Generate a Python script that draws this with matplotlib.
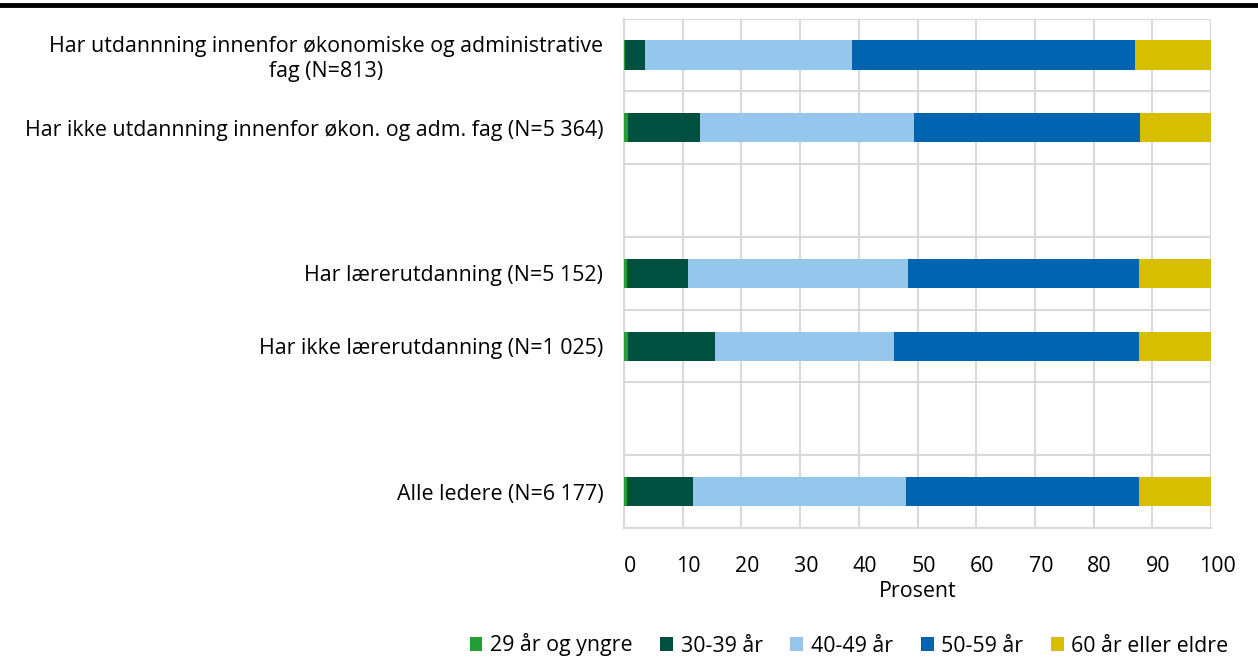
import matplotlib
matplotlib.use("Agg")
import matplotlib.pyplot as plt
import matplotlib.transforms as mtransforms
from matplotlib.patches import Patch
import numpy as np

plt.rcParams['font.family'] = ['Open Sans', 'DejaVu Sans']

categories = [
    "Har utdannning innenfor økonomiske og administrative\nfag (N=813)",
    "Har ikke utdannning innenfor økon. og adm. fag (N=5 364)",
    "",
    "Har lærerutdanning (N=5 152)",
    "Har ikke lærerutdanning (N=1 025)",
    "",
    "Alle ledere (N=6 177)",
]
series_names = ["29 år og yngre", "30-39 år", "40-49 år", "50-59 år", "60 år eller eldre"]
s29 = [0.1, 0.6, 0, 0.45, 0.6, 0, 0.5]
s30 = [3.5, 12.3, 0, 10.5, 14.9, 0, 11.3]
s40 = [35.2, 36.5, 0, 37.4, 30.5, 0, 36.2]
s50 = [48.3, 38.5, 0, 39.3, 41.8, 0, 39.7]
s60 = [12.9, 12.1, 0, 12.3, 12.2, 0, 12.3]
colors = ["#22a038", "#00503f", "#95c6eb", "#0064b0", "#d7bf00"]
xticks = [0, 10, 20, 30, 40, 50, 60, 70, 80, 90, 100]

FS = 15.4

fig = plt.figure(figsize=(12.58, 6.70), dpi=100)
ax = fig.add_axes([624/1258, 1-528/670, (1211-624)/1258, (528-18.6)/670])

y = np.arange(len(categories))
left = np.zeros(len(categories))
for vals, c, name in zip([s29, s30, s40, s50, s60], colors, series_names):
    v = np.array(vals)
    ax.barh(y, v, left=left, height=0.4, color=c, label=name, zorder=3)
    left += v

ax.set_xlim(0, 100)
ax.set_ylim(len(categories)-0.5, -0.5)
ax.set_xticks(xticks)
ax.set_xticklabels([str(t) for t in xticks], fontsize=FS)
ax.set_yticks(y)
ax.set_yticklabels(categories, fontsize=FS, multialignment='center')
ax.set_yticks(np.arange(-0.5, len(categories), 1), minor=True)
ax.tick_params(axis='y', which='both', length=0, pad=15)
ax.tick_params(axis='x', length=0, pad=20)
ax.grid(axis='x', which='major', color='#d9d9d9', linewidth=1.5, zorder=0)
ax.grid(axis='y', which='minor', color='#d9d9d9', linewidth=1.5, zorder=0)
for s in ax.spines.values():
    s.set_color('#d9d9d9')
    s.set_linewidth(1.5)
ax.spines['top'].set_visible(False)
ax.spines['right'].set_visible(False)
ax.set_axisbelow(True)

offset = mtransforms.ScaledTranslation(6/100, 0, fig.dpi_scale_trans)
for lab in ax.get_xticklabels():
    lab.set_transform(lab.get_transform() + offset)

ax.set_xlabel("Prosent", fontsize=FS, labelpad=3)

handles = [Patch(facecolor=c, edgecolor='none') for c in colors]
fig.legend(handles, series_names, loc='center', bbox_to_anchor=(849/1258, 1-645/670),
           ncol=5, frameon=False, fontsize=FS, handlelength=0.6, handleheight=0.6,
           handletextpad=0.35, columnspacing=1.3)

fig.add_artist(plt.Line2D([0, 1], [1-5/670, 1-5/670], transform=fig.transFigure,
                          color='black', linewidth=3.5))

fig.savefig("out.png", dpi=100)
